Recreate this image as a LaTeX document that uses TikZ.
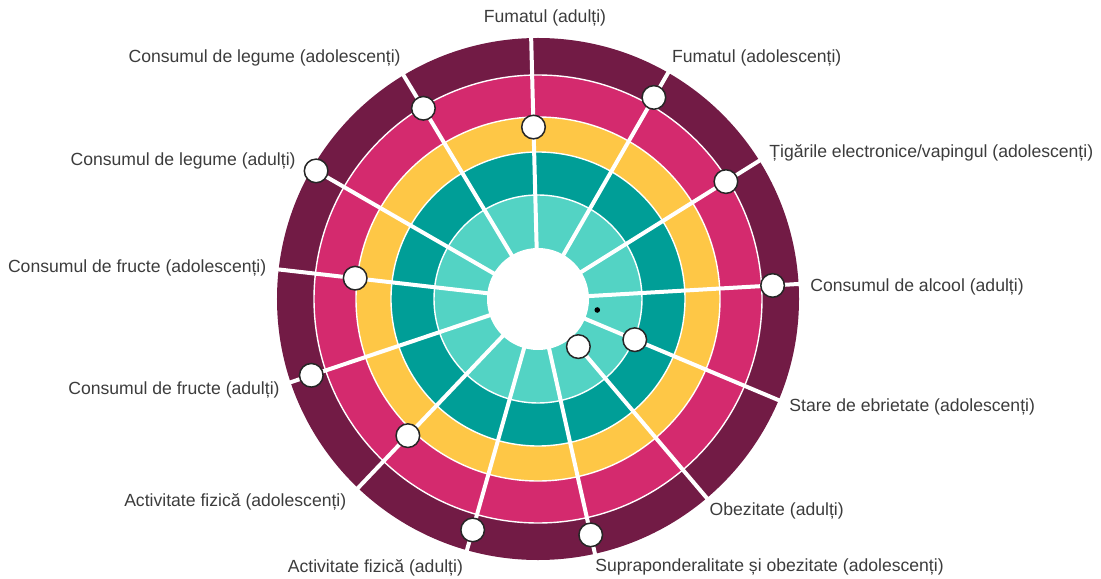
\documentclass[tikz,border=0pt]{standalone}
\usepackage{fontspec}
\setmainfont{Liberation Sans}
\definecolor{wine}{HTML}{721B45}
\definecolor{rose}{HTML}{D42A6E}
\definecolor{sun}{HTML}{FEC746}
\definecolor{teal}{HTML}{009E97}
\definecolor{mint}{HTML}{53D3C4}
\definecolor{ink}{HTML}{3C3C3C}
\tikzset{spoke/.style={white, line width=2pt},
         ringline/.style={white, line width=0.7pt},
         score/.style={circle, draw=black!85, fill=white, line width=0.75pt, minimum size=11.8pt, inner sep=0pt},
         lbl/.style={text=ink, inner sep=0pt, font=\fontsize{8.8pt}{10pt}\selectfont}
}
\begin{document}
\begin{tikzpicture}[x=0.5pt, y=0.5pt]
\useasboundingbox (-538,-279) rectangle (563,299);
\coordinate (c) at (0,0);

% rings
\fill[wine] (c) circle (261);
\fill[rose] (c) circle (224);
\fill[sun] (c) circle (182);
\fill[teal] (c) circle (147);
\fill[mint] (c) circle (104);
\draw[ringline] (c) circle (224);
\draw[ringline] (c) circle (182);
\draw[ringline] (c) circle (147);
\draw[ringline] (c) circle (104);

% spokes
\draw[spoke] (c) -- (91.5:268);
\draw[spoke] (c) -- (60.1:268);
\draw[spoke] (c) -- (32:268);
\draw[spoke] (c) -- (3.3:268);
\draw[spoke] (c) -- (-22.8:268);
\draw[spoke] (c) -- (-49.7:268);
\draw[spoke] (c) -- (-77.4:268);
\draw[spoke] (c) -- (-105.8:268);
\draw[spoke] (c) -- (-133.6:268);
\draw[spoke] (c) -- (-161.4:268);
\draw[spoke] (c) -- (173.5:268);
\draw[spoke] (c) -- (150:268);
\draw[spoke] (c) -- (121:268);
\fill[white] (c) circle (51);
\fill[black] (-10.5:60.3) circle (2.8);

% values
\node[score] (smokeAdV) at (91.5:172) {};
\node[score] (smokeTeenV) at (60.1:232.5) {};
\node[score] (vapeV) at (32:221.6) {};
\node[score] (alcoholV) at (3.3:235) {};
\node[score] (drunkV) at (-22.8:105) {};
\node[score] (obeseV) at (-49.7:62.4) {};
\node[score] (overweightV) at (-77.4:241.7) {};
\node[score] (activeAdV) at (-105.8:240) {};
\node[score] (activeTeenV) at (-133.6:188.7) {};
\node[score] (fruitAdV) at (-161.4:239.2) {};
\node[score] (fruitTeenV) at (173.5:184) {};
\node[score] (vegAdV) at (150:256.2) {};
\node[score] (vegTeenV) at (121:222.5) {};

% labels
\node[lbl] (smokeAd) at (7,281) {Fumatul (adulți)};
\node[lbl, anchor=west] (smokeTeen) at (133.7,241) {Fumatul (adolescenți)};
\node[lbl, anchor=west] (vape) at (231,146.5) {Țigările electronice/vapingul (adolescenți)};
\node[lbl, anchor=west] (alcohol) at (272,12) {Consumul de alcool (adulți)};
\node[lbl, anchor=west] (drunk) at (251,-107.7) {Stare de ebrietate (adolescenți)};
\node[lbl, anchor=west] (obese) at (171.3,-211.7) {Obezitate (adulți)};
\node[lbl, anchor=west] (overweight) at (57,-267.7) {Supraponderalitate și obezitate (adolescenți)};
\node[lbl, anchor=east] (activeAd) at (-74.7,-268.7) {Activitate fizică (adulți)};
\node[lbl, anchor=east] (activeTeen) at (-191.3,-203.3) {Activitate fizică (adolescenți)};
\node[lbl, anchor=east] (fruitAd) at (-258,-91) {Consumul de fructe (adulți)};
\node[lbl, anchor=east] (fruitTeen) at (-271.3,30.7) {Consumul de fructe (adolescenți)};
\node[lbl, anchor=east] (vegAd) at (-242,138) {Consumul de legume (adulți)};
\node[lbl, anchor=east] (vegTeen) at (-137,240.7) {Consumul de legume (adolescenți)};

\end{tikzpicture}
\end{document}
